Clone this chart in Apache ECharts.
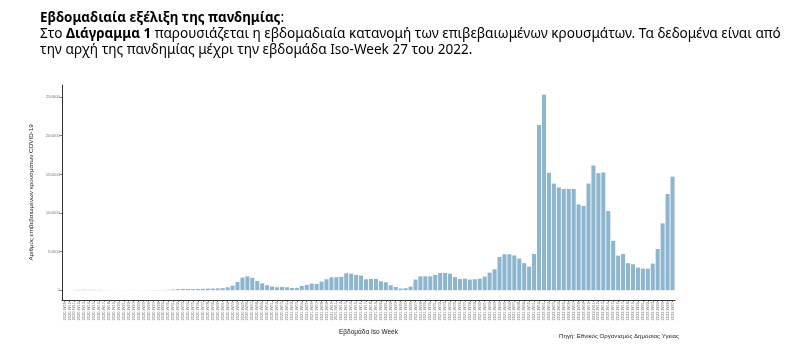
<!DOCTYPE html>
<html>
<head>
<meta charset="utf-8">
<script src="https://cdn.jsdelivr.net/npm/echarts@6/dist/echarts.min.js"></script>
<style>
html,body{margin:0;padding:0;background:#fff;}
#c{width:800px;height:345px;}
</style>
</head>
<body>
<div id="c"></div>
<script>
// ISO weeks from 2020-W09 to 2022-W27
const weekRanges = [[2020, 9, 53], [2021, 1, 52], [2022, 1, 27]];
const categories = [];
weekRanges.forEach(function (r) {
  for (let w = r[1]; w <= r[2]; w++) categories.push(r[0] + '-W' + (w < 10 ? '0' + w : w));
});

// weekly confirmed cases
const cases2020 = [
  10, 80, 300, 450, 600, 500, 450, 400, 200, 120,
  100, 80, 80, 120, 130, 100, 150, 160, 200, 250,
  300, 450, 900, 1300, 1600, 1600, 1500, 1600, 1900, 2100,
  2200, 2400, 2700, 3800, 6000, 10800, 16400, 18000, 16000, 12000,
  9000, 6500, 4800, 3900, 4300
];
const cases2021 = [
  3900, 3000, 3000, 5600, 6900, 8600, 8200, 11200, 14200, 16800,
  16800, 17200, 22000, 21500, 19800, 19000, 14200, 14600, 14600, 11600,
  10300, 6500, 4300, 2200, 2600, 4700, 13800, 18000, 18000, 18000,
  19800, 22400, 22400, 21500, 17000, 14600, 15000, 13800, 14200, 15000,
  17700, 22800, 27000, 43000, 46500, 46500, 45000, 41000, 35000, 30600,
  47000, 214000
];
const cases2022 = [
  253000, 152000, 138000, 133000, 131000, 131000, 131000, 111000, 109000, 138000,
  161500, 151600, 152500, 102500, 64000, 44800, 47000, 35000, 33600, 29300,
  28000, 28000, 34500, 53400, 86600, 124500, 147000
];
const values = cases2020.concat(cases2021, cases2022);
const yTicks = [0, 50000, 100000, 150000, 200000, 250000];

const headerLine1 = 'Εβδομαδιαία εξέλιξη της πανδημίας';
const headerLine2a = 'Στο ';
const headerLine2b = 'Διάγραμμα 1';
const headerLine2c = ' παρουσιάζεται η εβδομαδιαία κατανομή των επιβεβαιωμένων κρουσμάτων. Τα δεδομένα είναι από';
const headerLine3 = 'την αρχή της πανδημίας μέχρι την εβδομάδα Iso-Week 27 του 2022.';

const chart = echarts.init(document.getElementById('c'), null, {renderer: 'canvas'});
const headFont = 'Noto Sans';
const richStyles = {
  b: {fontFamily: headFont, fontSize: 13.4, fontWeight: 'bold', color: '#000'},
  n: {fontFamily: headFont, fontSize: 13.6, fontWeight: 'normal', color: '#000'}
};
chart.setOption({
  animation: false,
  backgroundColor: '#fff',
  title: [
    {left: 35, top: 6, text: '{b|' + headerLine1 + '}{n|:}', textStyle: {rich: richStyles}},
    {left: 35, top: 22, text: '{n|' + headerLine2a + '}{b|' + headerLine2b + '}{n|' + headerLine2c + '}', textStyle: {rich: richStyles}},
    {left: 35, top: 38, text: '{n|' + headerLine3 + '}', textStyle: {rich: richStyles}}
  ],
  grid: {left: 62, right: 125, top: 85, bottom: 45, containLabel: false},
  xAxis: {
    type: 'category',
    data: categories,
    boundaryGap: true,
    name: 'Εβδομάδα Iso Week',
    nameLocation: 'middle',
    nameGap: 25,
    nameTextStyle: {fontFamily: 'Liberation Sans', fontSize: 6.5, color: '#222'},
    axisLine: {onZero: false, lineStyle: {color: '#333', width: 1}},
    axisTick: {show: true, alignWithLabel: true, interval: 0, length: 2, lineStyle: {color: '#333', width: 0.6}},
    axisLabel: {interval: 0, rotate: 90, fontSize: 4, color: '#777', margin: 2, fontFamily: 'Liberation Sans'},
    splitLine: {show: false}
  },
  yAxis: {
    type: 'value',
    min: -12650,
    max: 265650,
    name: 'Αριθμός επιβεβαιωμένων κρουσμάτων COVID-19',
    nameLocation: 'middle',
    nameGap: 17,
    nameRotate: 90,
    nameTextStyle: {fontFamily: 'Liberation Sans', fontSize: 6.2, color: '#222'},
    axisLine: {show: true, lineStyle: {color: '#333', width: 1}},
    axisTick: {show: true, length: 2.5, customValues: yTicks, lineStyle: {color: '#333', width: 0.6}},
    axisLabel: {customValues: yTicks, formatter: function (v) { return String(v); }, fontSize: 4.3, color: '#777', margin: 2, fontFamily: 'Liberation Sans'},
    splitLine: {show: false}
  },
  series: [{
    type: 'bar',
    data: values,
    barCategoryGap: '18%',
    itemStyle: {color: '#8cb5d0'}
  }],
  graphic: [{
    type: 'text',
    right: 121,
    top: 333,
    style: {text: 'Πηγή: Εθνικός Οργανισμός Δημόσιας Υγείας', font: '6.1px "Liberation Sans"', fill: '#222'}
  }]
});
</script>
</body>
</html>
